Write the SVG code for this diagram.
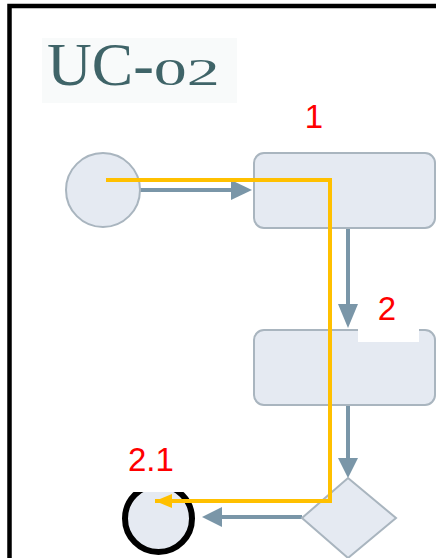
<svg xmlns="http://www.w3.org/2000/svg" width="436" height="558" viewBox="0 0 436 558">
  <style>
    .node { fill: #e5eaf2; stroke: #a9b5bf; stroke-width: 2; }
    .flow { fill: none; stroke: #7a96a8; stroke-width: 4; }
    .head { fill: #7a96a8; }
    .path { fill: none; stroke: #ffc000; stroke-width: 4; }
    .step { font-family: "Liberation Sans", Arial, sans-serif; font-size: 33px; fill: #ff0000; }
    .title { font-family: "Liberation Serif", "Times New Roman", serif; font-size: 62px; fill: #3f6468; }
  </style>
  <defs>
    <marker id="pathHead" markerWidth="18" markerHeight="16" refX="17" refY="8" orient="auto" markerUnits="userSpaceOnUse">
      <path d="M0,1 L17,8 L0,15 Z" fill="#ffc000"/>
    </marker>
  </defs>

  <rect width="436" height="558" fill="#ffffff"/>
  <!-- frame -->
  <path d="M9.5,558 V6 H436" fill="none" stroke="#000000" stroke-width="4.5"/>

  <!-- title -->
  <g id="title">
    <rect x="42" y="38" width="195" height="65" fill="#f8fafa"/>
    <text class="title" x="47" y="85">UC-<tspan font-size="38" textLength="66" lengthAdjust="spacingAndGlyphs">02</tspan></text>
  </g>

  <!-- connectors -->
  <g id="connectors">
    <line class="flow" x1="140" y1="190" x2="234" y2="190"/>
    <polygon class="head" points="252,190 231,180 231,200"/>
    <line class="flow" x1="348" y1="228" x2="348" y2="306"/>
    <polygon class="head" points="348,328 338,304 358,304"/>
    <line class="flow" x1="348" y1="405" x2="348" y2="460"/>
    <polygon class="head" points="348,478 338,458 358,458"/>
    <line class="flow" x1="302" y1="517" x2="218" y2="517"/>
    <polygon class="head" points="202,517 222,507 222,527"/>
  </g>

  <!-- nodes -->
  <g id="start">
    <circle class="node" cx="103" cy="190" r="37"/>
  </g>
  <g id="action1">
    <rect class="node" x="254" y="153" width="181" height="75" rx="10"/>
  </g>
  <g id="action2">
    <rect class="node" x="254" y="330" width="181" height="75" rx="10"/>
  </g>
  <g id="decision">
    <polygon class="node" points="348,478 396,518 348,558 302,518"/>
  </g>
  <g id="end">
    <circle cx="158.5" cy="518.5" r="33.5" fill="#e5eaf2" stroke="#000000" stroke-width="6"/>
  </g>

  <!-- step labels -->
  <g id="label-1">
    <text class="step" x="314" y="128" text-anchor="middle">1</text>
  </g>
  <g id="label-2">
    <rect x="358" y="268" width="61" height="74" fill="#ffffff"/>
    <text class="step" x="387" y="320" text-anchor="middle">2</text>
  </g>
  <g id="label-2-1">
    <rect x="112" y="440" width="90" height="52" fill="#ffffff"/>
    <text class="step" x="128" y="471">2.1</text>
  </g>

  <!-- scenario path -->
  <g id="scenario">
    <path class="path" d="M106,180 H330 V501 H155" marker-end="url(#pathHead)"/>
  </g>
</svg>
